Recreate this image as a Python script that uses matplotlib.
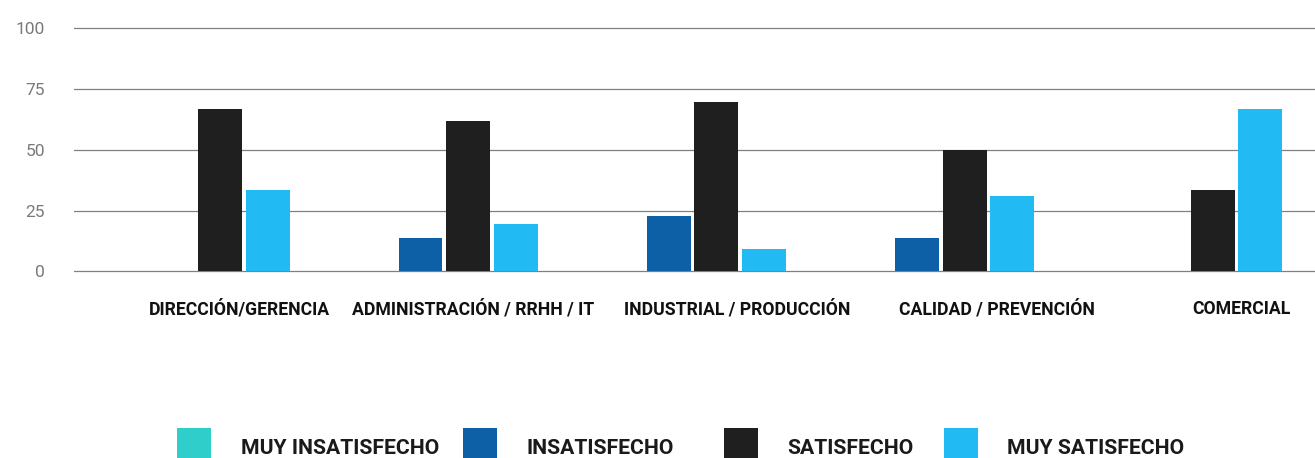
import matplotlib
matplotlib.use("Agg")
import matplotlib.pyplot as plt
import matplotlib.transforms as mtrans
from matplotlib.patches import Rectangle
import numpy as np

categories = ["DIRECCIÓN/GERENCIA", "ADMINISTRACIÓN / RRHH / IT",
              "INDUSTRIAL / PRODUCCIÓN", "CALIDAD / PREVENCIÓN", "COMERCIAL"]
series_names = ["MUY INSATISFECHO", "INSATISFECHO", "SATISFECHO", "MUY SATISFECHO"]
muy_insatisfecho = [0, 0, 0, 0, 0]
insatisfecho = [0, 13.7, 22.8, 13.7, 0]
satisfecho = [66.7, 61.9, 69.7, 50.0, 33.3]
muy_satisfecho = [33.3, 19.5, 9.2, 31.0, 66.7]
y_ticks = [0, 25, 50, 75, 100]

colors = ["#30cecb", "#0e60a6", "#1f1f1f", "#21baf2"]
# the category labels are not quite centred on their groups in the original
label_shift = [0.165, 0.109, 0.173, 0.218, 0.205]
# no condensed font here: fit the widths, a bit wider to keep the text readable
label_width_px = 148 * 1.22  # "DIRECCIÓN/GERENCIA"
legend_width_px = 163 * 1.22  # "MUY INSATISFECHO"
legend_box_x = [177, 463, 724, 944]
legend_text_x = [241, 527, 787, 1007]
font = dict(family=["Roboto", "DejaVu Sans"], weight="bold")

fig = plt.figure(figsize=(13.15, 4.58), dpi=100)
ax = fig.add_axes([74 / 1315, 185.5 / 458, 1241 / 1315, 245.4 / 458])

x = np.arange(len(categories))
pitch = 0.192
width = 0.177
values = [muy_insatisfecho, insatisfecho, satisfecho, muy_satisfecho]
for j, (name, vals) in enumerate(zip(series_names, values)):
    ax.bar(x + (j - 1.5) * pitch - 0.008, vals, width=width, color=colors[j],
           linewidth=0, label=name, zorder=3)

ax.set_xlim(-0.5, 4.5)
ax.set_ylim(-0.5, 100.5)
ax.set_yticks(y_ticks)
ylabels = ax.set_yticklabels([str(t) for t in y_ticks], family=["Roboto", "DejaVu Sans"],
                             fontweight="normal", fontsize=12.5, color="#7a7a7a")
lift = mtrans.ScaledTranslation(0, 4 / 100, fig.dpi_scale_trans)
for t in ylabels:
    t.set_transform(t.get_transform() + lift)
ax.tick_params(axis="y", length=0, pad=21)
ax.grid(axis="y", color="#808080", linewidth=0.9)
ax.set_axisbelow(True)
for s in ax.spines.values():
    s.set_visible(False)

ax.set_xticks(x + np.array(label_shift))
ticklabels = ax.set_xticklabels(categories, fontsize=13, color="#111111", **font)
ax.tick_params(axis="x", length=0, pad=20)

# legend drawn by hand so the boxes sit where they do in the original
legend_texts = []
for bx, tx, c, name in zip(legend_box_x, legend_text_x, colors, series_names):
    fig.patches.append(Rectangle((bx / 1315, -4 / 458), 34 / 1315, 34 / 458,
                                 transform=fig.transFigure, facecolor=c,
                                 edgecolor="none"))
    legend_texts.append(fig.text(tx / 1315, 10 / 458, name, ha="left", va="center",
                                 fontsize=17, color="#1a1a1a", **font))

# fit text sizes to the widths measured on the reference
renderer = fig.canvas.get_renderer()
w = ticklabels[0].get_window_extent(renderer).width
for t in ticklabels:
    t.set_fontsize(13 * label_width_px / w)
w = legend_texts[0].get_window_extent(renderer).width
for t in legend_texts:
    t.set_fontsize(17 * legend_width_px / w)

fig.savefig("out.png", dpi=100)
